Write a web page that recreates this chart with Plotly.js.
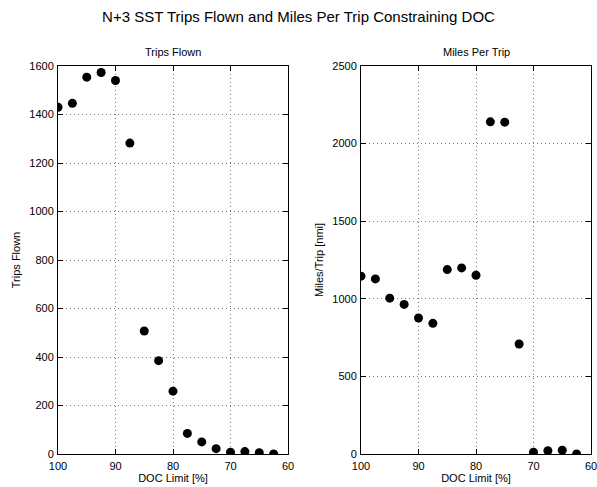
<!DOCTYPE html>
<html>
<head>
<meta charset="utf-8">
<script src="https://cdn.plot.ly/plotly-3.0.1.min.js"></script>
<style>html,body{margin:0;padding:0;background:#fff;}#chart{width:597px;height:487px;}</style>
</head>
<body>
<div id="chart"></div>
<script>
const docLimit = [100, 97.5, 95, 92.5, 90, 87.5, 85, 82.5, 80, 77.5, 75, 72.5, 70, 67.5, 65, 62.5];
const tripsFlown = [1430, 1446, 1554, 1573, 1540, 1282, 507, 385, 259, 85, 50, 22, 7, 10, 5, 0];
const milesPerTrip = [1146, 1128, 1004, 964, 876, 842, 1188, 1199, 1152, 2140, 2138, 709, 11, 21, 24, 0];
const xTicks = [100, 90, 80, 70, 60];
const yTicksLeft = [0, 200, 400, 600, 800, 1000, 1200, 1400, 1600];
const yTicksRight = [0, 500, 1000, 1500, 2000, 2500];

const FONT = 'Liberation Sans, Arial, Helvetica, sans-serif';
const W = 597, H = 487;

function axisCommon() {
  return {
    showline: true, linecolor: '#000', linewidth: 1, mirror: 'ticks',
    ticks: 'inside', ticklen: 5, tickcolor: '#000', tickwidth: 1,
    showgrid: true, gridcolor: '#777', gridwidth: 1, griddash: '1px,3px',
    zeroline: false, tickfont: {family: FONT, size: 11, color: '#000'},
    ticklabeloverflow: 'allow'
  };
}

const marker = {color: '#000', size: 9, symbol: 'circle'};
const traces = [
  {x: docLimit, y: tripsFlown, mode: 'markers', type: 'scatter', marker: marker, xaxis: 'x', yaxis: 'y', showlegend: false},
  {x: docLimit, y: milesPerTrip, mode: 'markers', type: 'scatter', marker: marker, xaxis: 'x2', yaxis: 'y2', showlegend: false}
];

const yDom = [(H - 454) / H, (H - 66) / H];
const layout = {
  width: W, height: H,
  margin: {l: 0, r: 0, t: 0, b: 0},
  paper_bgcolor: '#fff', plot_bgcolor: '#fff',
  font: {family: FONT, color: '#000'},
  title: {text: 'N+3 SST Trips Flown and Miles Per Trip Constraining DOC', font: {family: FONT, size: 15, color: '#000'}, x: 0.5, xanchor: 'center', y: 1 - 17 / H, yanchor: 'middle'},
  xaxis: Object.assign(axisCommon(), {domain: [58 / W, 288 / W], range: [100, 60], tickvals: xTicks, anchor: 'y', ticklabelstandoff: 2,
    title: {text: 'DOC Limit [%]', standoff: 1, font: {family: FONT, size: 11, color: '#000'}}}),
  yaxis: Object.assign(axisCommon(), {domain: yDom, range: [0, 1600], tickvals: yTicksLeft, anchor: 'x', ticklabelstandoff: 1,
    title: {text: 'Trips Flown', standoff: 6, font: {family: FONT, size: 11, color: '#000'}}}),
  xaxis2: Object.assign(axisCommon(), {domain: [361 / W, 591 / W], range: [100, 60], tickvals: xTicks, anchor: 'y2', ticklabelstandoff: 2,
    title: {text: 'DOC Limit [%]', standoff: 1, font: {family: FONT, size: 11, color: '#000'}}}),
  yaxis2: Object.assign(axisCommon(), {domain: yDom, range: [0, 2500], tickvals: yTicksRight, anchor: 'x2', ticklabelstandoff: 1,
    title: {text: 'Miles/Trip [nmi]', standoff: 6, font: {family: FONT, size: 11, color: '#000'}}}),
  annotations: [
    {text: 'Trips Flown', xref: 'paper', yref: 'paper', x: 173 / W, y: 1 - 52 / H, showarrow: false, xanchor: 'center', yanchor: 'middle', font: {family: FONT, size: 11, color: '#000'}},
    {text: 'Miles Per Trip', xref: 'paper', yref: 'paper', x: 476 / W, y: 1 - 52 / H, showarrow: false, xanchor: 'center', yanchor: 'middle', font: {family: FONT, size: 11, color: '#000'}}
  ]
};

Plotly.newPlot('chart', traces, layout, {staticPlot: true, displayModeBar: false});
</script>
</body>
</html>
